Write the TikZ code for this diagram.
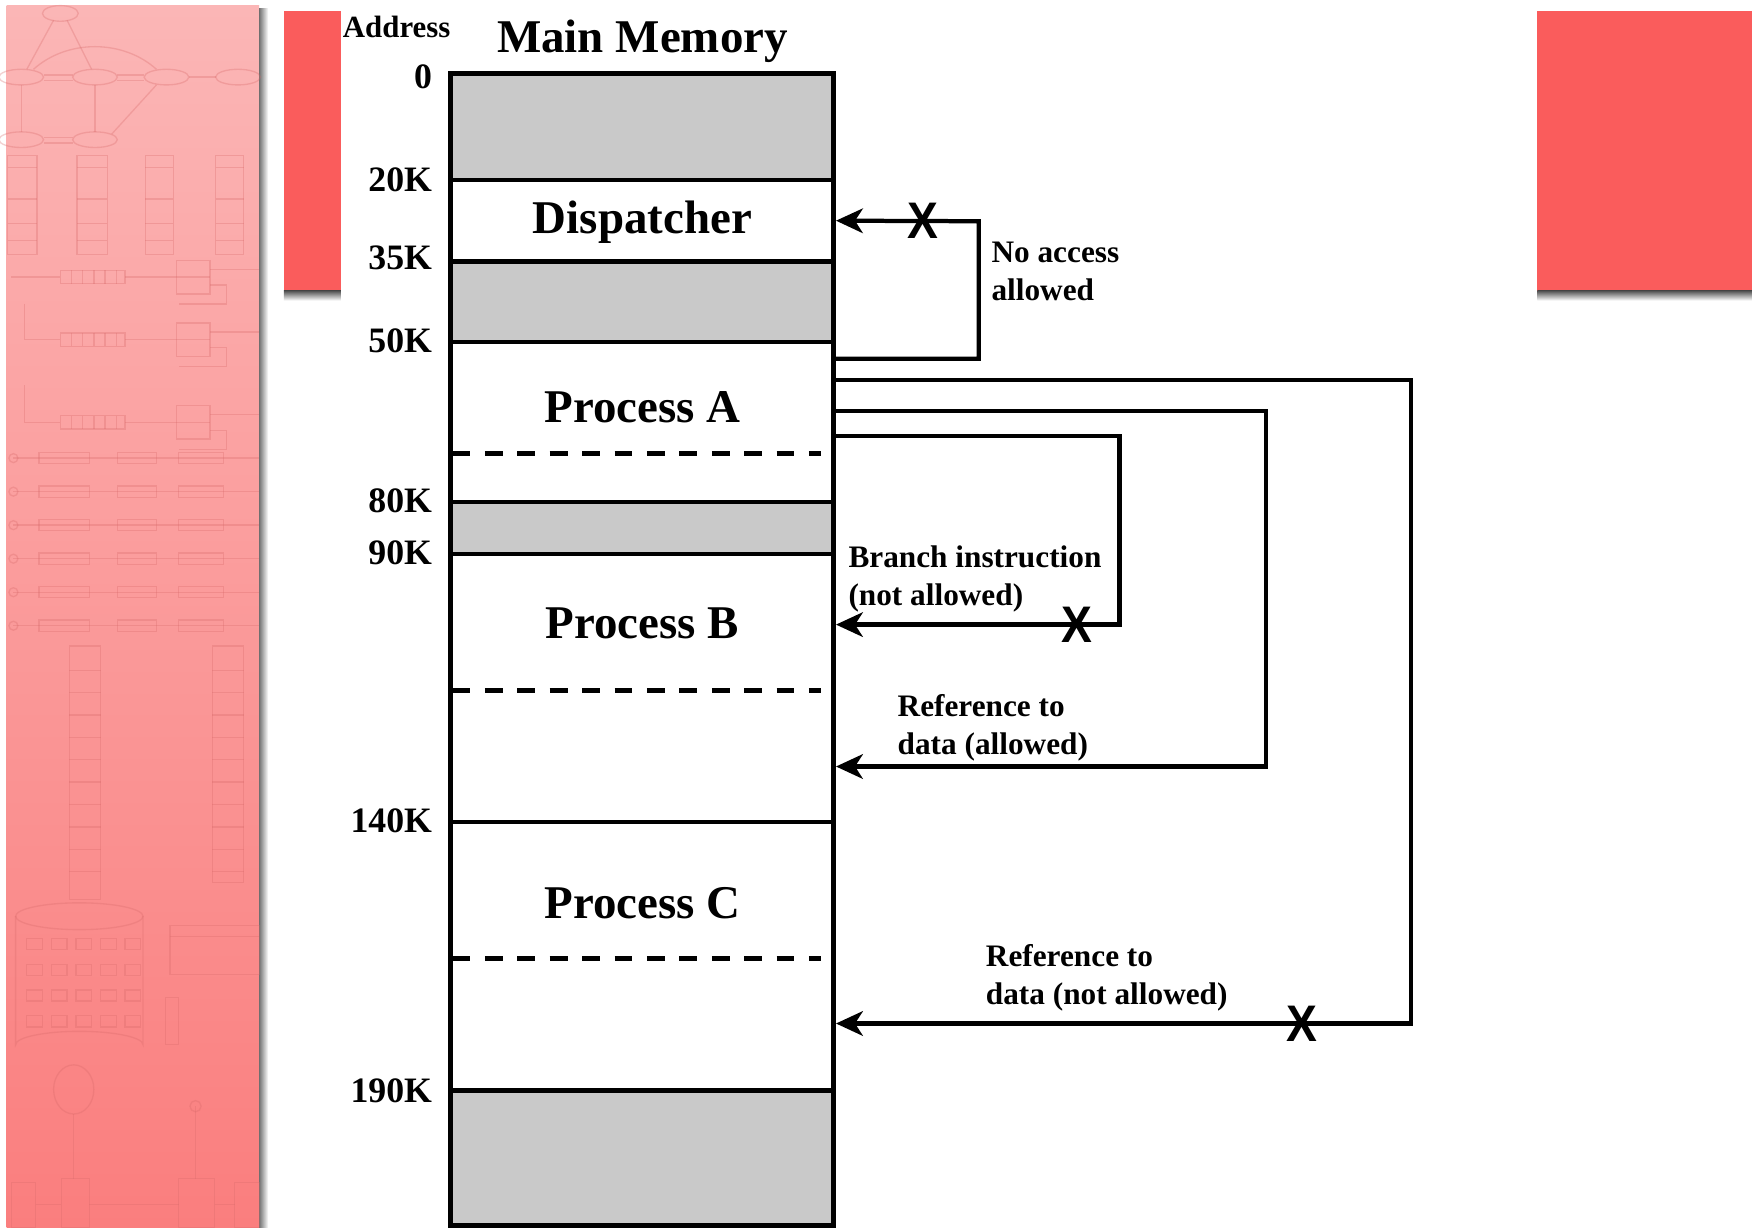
\documentclass[tikz,border=0pt]{standalone}
\usepackage{fontspec}
\setmainfont{Liberation Serif}
\newfontfamily\crossfont{Liberation Sans}
\usetikzlibrary{arrows.meta}
\definecolor{memgray}{RGB}{201,201,201}
\definecolor{blockred}{RGB}{250,92,92}
\definecolor{paneltop}{RGB}{251,182,182}
\definecolor{panelbot}{RGB}{250,126,126}
\definecolor{panelink}{RGB}{215,105,105}
\begin{document}
\begin{tikzpicture}[x=0.5pt,y=-0.5pt,
  seg/.style={draw, line width=1.85pt, minimum width=171.5pt, inner sep=0pt, outer sep=1.1pt},
  gseg/.style={seg, fill=memgray},
  wseg/.style={seg, fill=white},
  big/.style={font=\bfseries\fontsize{21}{25}\selectfont, inner sep=0pt, anchor=base},
  addr/.style={font=\bfseries\fontsize{16}{19}\selectfont, anchor=east, inner sep=0pt},
  note/.style={font=\bfseries\fontsize{14}{17}\selectfont, align=left, anchor=west, inner sep=0pt},
  conn/.style={line width=1.9pt, line join=miter, -{Stealth[length=12pt,width=11pt,inset=3.5pt]}},
  cross/.style={font=\crossfont\bfseries\fontsize{23}{25}\selectfont, inner sep=0pt},
  divider/.style={line width=2pt, dash pattern=on 8pt off 6.5pt},
  faint/.style={draw=panelink, line width=0.6pt, draw opacity=0.3}
]
\useasboundingbox (0,0) rectangle (1568,1099);
\fill[white] (0,0) rectangle (1568,1099);

% ---------- left pale panel ----------
\shade[top color=paneltop, bottom color=panelbot] (6,5) rectangle (232,1099);
\shade[left color=black!55, right color=white] (232,8) rectangle (240,1099);
% faint background drawing
\begin{scope}[faint]
  \draw (54,12) ellipse (16 and 7);
  \foreach \x in {19,85,149,213} \draw (\x,69) ellipse (20 and 7);
  \foreach \x in {19,85} \draw (\x,125) ellipse (20 and 7);
  \draw (48,18) -- (24,62); \draw (60,18) -- (82,62);
  \draw (39,67) -- (65,67); \draw (39,72) -- (65,72);
  \draw (105,67) -- (129,67); \draw (105,72) -- (129,72);
  \draw (169,69) -- (193,69);
  \draw (19,118) -- (19,76); \draw (85,118) -- (85,76);
  \draw (39,123) -- (65,123); \draw (39,128) -- (65,128);
  \draw (140,76) -- (100,120);
  \draw (30,62) .. controls (60,35) and (110,35) .. (140,62);
  \foreach \x/\w in {7/26,69/27,130/25,193/25}{
    \draw (\x,139) rectangle ++(\w,89);
    \draw (\x,150) -- ++(\w,0);
    \draw (\x,178) -- ++(\w,0);
    \draw (\x,200) -- ++(\w,0);
    \draw (\x,215) -- ++(\w,0);
  }
  \foreach \y in {248,304,378}{
    \draw (54,\y-6) rectangle (112,\y+6);
    \foreach \x in {64,74,84,94,104} \draw (\x,\y-6) -- (\x,\y+6);
    \draw (158,\y-15) rectangle (188,\y+15);
    \draw (158,\y) -- (188,\y);
    \draw (112,\y) -- (158,\y);
    \draw (188,\y-7) -- (232,\y-7);
    \draw (188,\y+7) -- (203,\y+7) -- (203,\y+24) -- (160,\y+24);
  }
  \draw (10,248) -- (54,248);
  \draw (22,272) -- (22,304) -- (54,304);
  \draw (22,345) -- (22,378) -- (54,378);
  \foreach \y in {410,440,470,500,530,560}{
    \draw (12,\y) circle (4);
    \draw (12,\y) -- (232,\y);
    \draw (35,\y-5) rectangle (80,\y+5);
    \draw (105,\y-5) rectangle (140,\y+5);
    \draw (160,\y-5) rectangle (200,\y+5);
  }
  \draw (62,578) rectangle (90,805);
  \draw (190,578) rectangle (218,790);
  \foreach \y in {600,620,640,660,680,700,720,740,760,780}{
    \draw (62,\y) -- (90,\y);
    \draw (190,\y) -- (218,\y);
  }
  \draw (14,820) -- (14,935) arc (180:360:57 and 12) -- (128,820);
  \draw (71,820) ellipse (57 and 12);
  \foreach \y in {845,868,891,914}
    \foreach \x in {24,46,68,90,112}
      \draw (\x,\y-5) rectangle ++(14,10);
  \draw (152,828) rectangle (232,872);
  \draw (152,838) -- (232,838);
  \draw (148,893) rectangle (160,935);
  \draw (66,975) ellipse (18 and 22);
  \draw (66,997) -- (66,1055);
  \draw (175,990) -- (175,1055);
  \draw (175,990) circle (5);
  \draw (10,1058) rectangle (32,1099);
  \draw (55,1055) rectangle (80,1099);
  \draw (160,1055) rectangle (192,1099);
  \draw (210,1058) rectangle (232,1099);
  \draw (32,1078) -- (55,1078); \draw (80,1078) -- (160,1078); \draw (192,1078) -- (210,1078);
\end{scope}

% ---------- red blocks with shadows ----------
\fill[blockred] (254,10) rectangle (305,260);
\shade[top color=black!70, bottom color=white] (254,260) rectangle (305,269);
\fill[blockred] (1376,10) rectangle (1568,260);
\shade[top color=black!70, bottom color=white] (1376,260) rectangle (1568,269);

% ---------- titles ----------
\node[font=\bfseries\fontsize{13.8}{16}\selectfont, inner sep=0pt] (addrtitle) at (355,24) {Address};
\node[big] (title) at (575,47) {Main Memory};

% ---------- memory segments ----------
\node[gseg, minimum height=47.5pt] (g0) at (574.5,113.5) {};
\node[wseg, minimum height=36.5pt] (disp) at (574.5,197.5) {};
\node[gseg, minimum height=36pt]   (g1) at (574.5,270) {};
\node[wseg, minimum height=71.5pt] (pA) at (574.5,377.5) {};
\node[gseg, minimum height=23.5pt] (g2) at (574.5,472.5) {};
\node[wseg, minimum height=120pt]  (pB) at (574.5,616) {};
\node[wseg, minimum height=120pt]  (pC) at (574.5,856) {};
\node[gseg, minimum height=60.5pt] (g3) at (574.5,1036.5) {};
\draw[line width=2.3pt] (403,66) rectangle (746,1097);

\draw[divider] (405,406) -- (735,406);
\draw[divider] (405,618) -- (735,618);
\draw[divider] (405,858) -- (735,858);

\node[big] (ldisp) at (575,209) {Dispatcher};
\node[big] (lA) at (575,378) {Process A};
\node[big] (lB) at (575,571) {Process B};
\node[big] (lC) at (575,822) {Process C};

% ---------- address labels ----------
\node[addr] (a0)   at (387,69)  {0};
\node[addr] (a20)  at (387,161) {20K};
\node[addr] (a35)  at (387,231) {35K};
\node[addr] (a50)  at (387,305) {50K};
\node[addr] (a80)  at (387,448) {80K};
\node[addr] (a90)  at (387,495) {90K};
\node[addr] (a140) at (387,735) {140K};
\node[addr] (a190) at (387,976) {190K};

% ---------- connectors ----------
\draw[conn] (pA.east |- 0,321) -- (876,321) -- (876,198) -- (disp.east);
\draw[conn] (pA.east |- 0,340) -- (1263,340) -- (1263,916) -- (pC.east |- 0,916);
\draw[conn] (pA.east |- 0,368) -- (1133,368) -- (1133,686) -- (pB.east |- 0,686);
\draw[conn] (pA.east |- 0,390) -- (1002,390) -- (1002,559) -- (pB.east |- 0,559);

\node[cross] (x1) at (826,198) {\scalebox{0.9}[1]{X}};
\node[cross] (x2) at (964,559) {\scalebox{0.9}[1]{X}};
\node[cross] (x3) at (1165,916) {\scalebox{0.9}[1]{X}};

% ---------- notes ----------
\node[note] (n1) at (887,243) {No access\\allowed};
\node[note] (n2) at (759,518) {Branch instruction\\(not allowed)};
\node[note] (n3) at (803,651) {Reference to\\data (allowed)};
\node[note] (n4) at (882,875) {Reference to\\data (not allowed)};
\end{tikzpicture}
\end{document}
